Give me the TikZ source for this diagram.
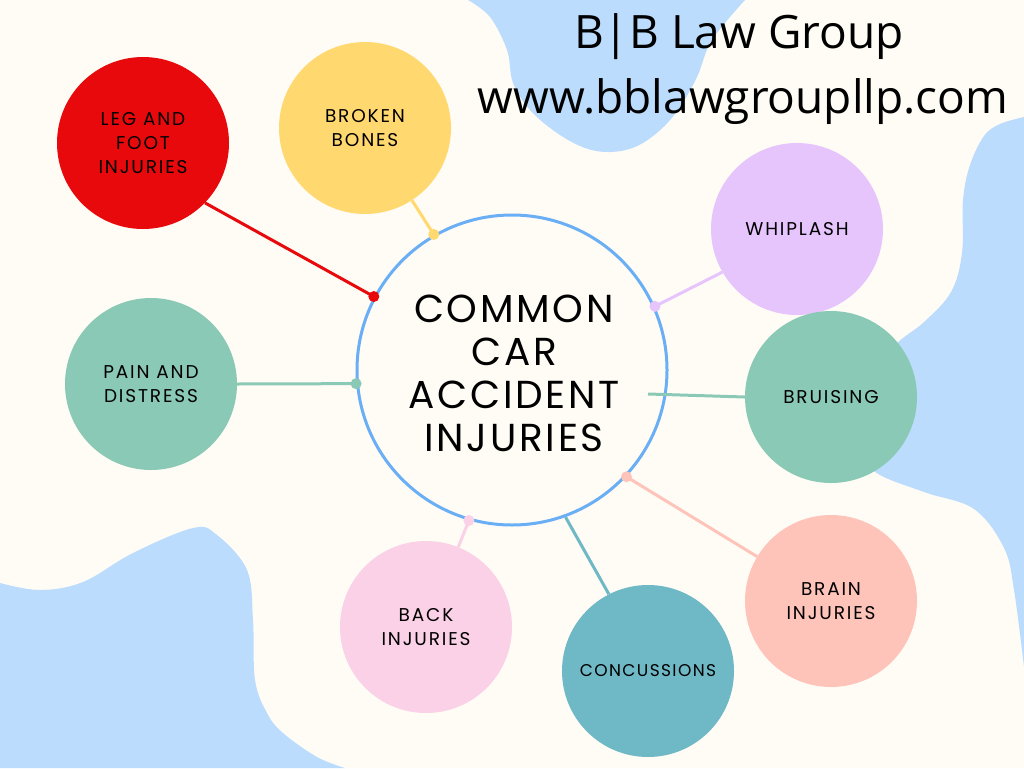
\documentclass[tikz,border=0pt]{standalone}
\usepackage{fontspec}
\setmainfont{Poppins}
\newfontfamily\titlefont{Open Sans}
\definecolor{bgc}{HTML}{FFFCF5}
\definecolor{blobc}{HTML}{BBDCFC}
\definecolor{cred}{HTML}{E8090C}
\definecolor{cyel}{HTML}{FFD970}
\definecolor{cpur}{HTML}{E6C5FD}
\definecolor{cgrn}{HTML}{8BC9B7}
\definecolor{cpnk}{HTML}{FAD1E6}
\definecolor{ctea}{HTML}{6FB8C6}
\definecolor{csal}{HTML}{FEC4BA}
\definecolor{cblu}{HTML}{6AAEF6}
\tikzset{
  blob/.style={fill=blobc, draw=none},
  bubble/.style={circle, draw=none, minimum size=172pt, inner sep=0pt, align=center,
     font=\fontsize{18.5}{24}\selectfont\addfontfeatures{LetterSpace=10}, text=black},
  hub/.style={circle, draw=cblu, line width=3pt, fill=bgc, minimum size=310pt, inner sep=0pt,
     align=center, font=\fontsize{39}{43}\selectfont\addfontfeatures{LetterSpace=7}},
  link/.style={line width=3pt},
  title/.style={font=\titlefont\fontsize{46}{63}\selectfont, align=center, inner sep=0pt}
}
\begin{document}
\begin{tikzpicture}[x=1pt,y=-1pt]
\useasboundingbox (0,0) rectangle (1024,768);
\fill[bgc] (0,0) rectangle (1024,768);
% blobs
\fill[blob] plot[smooth, tension=0.6] coordinates {(468,0) (490,17) (507,50) (513,83) (530,110) (557,133) (585,148) (610,152) (635,147) (658,132) (678,110) (697,77) (712,40) (745,0)} -- cycle;
\fill[blob] plot[smooth, tension=0.6] coordinates {(1024,117) (1000,124) (984,136) (970,165) (963,200) (962,253) (951,292) (924,322) (897,343) (860,380) (860,440) (874,471) (924,492) (974,509) (1004,548) (1014,590) (1024,667)} -- (1024,117) -- cycle;
\fill[blob] plot[smooth, tension=0.6] coordinates {(0,583) (40,590) (83,582) (133,553) (193,528) (217,535) (247,570) (253,620) (255,680) (267,713) (283,733) (317,757) (345,768)} -- (0,768) -- cycle;
% nodes
\node[hub] (main) at (512,370) {};
\node[font=\fontsize{39}{43}\selectfont\addfontfeatures{LetterSpace=7}, align=center, inner sep=0pt] (maintext) at (514,373) {COMMON\\CAR\\ACCIDENT\\INJURIES};
\node[bubble, fill=cred] (leg) at (143,143) {LEG AND\\FOOT\\INJURIES};
\node[bubble, fill=cyel] (bones) at (365,128) {BROKEN\\BONES};
\node[bubble, fill=cpur] (whip) at (797,229) {WHIPLASH};
\node[bubble, fill=cgrn] (pain) at (151,384) {PAIN AND\\DISTRESS};
\node[bubble, fill=cgrn] (bruise) at (831,397) {BRUISING};
\node[bubble, fill=csal] (brain) at (831,601) {BRAIN\\INJURIES};
\node[bubble, fill=cpnk] (back) at (426,627) {BACK\\INJURIES};
\node[bubble, fill=ctea, font=\fontsize{17}{24}\selectfont\addfontfeatures{LetterSpace=8}] (conc) at (648,671) {CONCUSSIONS};
\coordinate (bruend) at (648,394);
% connectors
\draw[link, cred] (leg.-44) -- (main.152);
\fill[cred] (main.152) circle (5.5pt);
\draw[link, cyel] (bones.-57) -- (main.120);
\fill[cyel] (main.120) circle (5.5pt);
\draw[link, cpur] (whip.210) -- (main.24);
\fill[cpur] (main.24) circle (5.5pt);
\draw[link, cgrn] (pain.east) -- (main.185);
\fill[cgrn] (main.185) circle (5.5pt);
\draw[link, cgrn] (bruise.west) -- (bruend);
\draw[link, csal] (brain.149) -- (main.-43);
\fill[csal] (main.-43) circle (5.5pt);
\draw[link, cpnk] (back.68) -- (main.-106);
\fill[cpnk] (main.-106) circle (5.5pt);
\draw[link, ctea] (conc.117) -- (main.-70);
% title
\node[title] (t1) at (739,37) {B|B Law Group};
\node[title] (t2) at (743,102) {www.bblawgroupllp.com};
\end{tikzpicture}
\end{document}
